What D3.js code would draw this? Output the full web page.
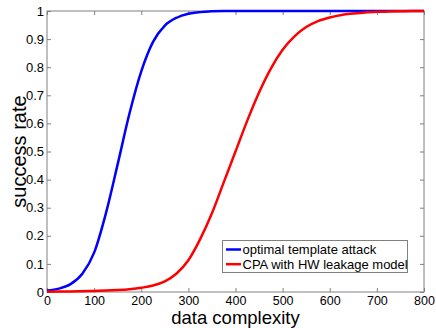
<!DOCTYPE html>
<html><head><meta charset="utf-8">
<script src="https://cdn.jsdelivr.net/npm/d3@7"></script>
<style>body{margin:0;background:#fff}svg{display:block}text{font-family:"Liberation Sans",Arial,sans-serif}</style>
</head><body><svg id="c" width="436" height="328"></svg>
<script>
const xVals = [0,25,50,75,100,125,150,175,200,225,250,275,300,325,350,375,400,425,450,475,500,525,550,575,600,625,650,675,700,725,750,775,800];
const templateRate = [0.005,0.012,0.028,0.065,0.14,0.28,0.455,0.635,0.785,0.89,0.948,0.976,0.99,0.996,0.999,1,1,1,1,1,1,1,1,1,1,1,1,1,1,1,1,1,1];
const cpaRate = [0.001,0.0015,0.002,0.003,0.004,0.005,0.007,0.01,0.015,0.023,0.038,0.066,0.113,0.188,0.28,0.39,0.5,0.61,0.71,0.795,0.862,0.91,0.943,0.964,0.977,0.986,0.991,0.995,0.997,0.998,0.999,1,1];
const seriesNames = ["optimal template attack","CPA with HW leakage model"];
const seriesColors = ["#0000ff","#ff0000"];
const xTicks = [0,100,200,300,400,500,600,700,800];
const yTicks = [0,0.1,0.2,0.3,0.4,0.5,0.6,0.7,0.8,0.9,1];
const yTickLabels = ["0","0.1","0.2","0.3","0.4","0.5","0.6","0.7","0.8","0.9","1"];

const svg = d3.select("#c");
const L=47, R=424, T=11, B=292;
const x = d3.scaleLinear().domain([0,800]).range([L,R]);
const y = d3.scaleLinear().domain([0,1]).range([B,T]);
const axisCol = "#808080";

svg.append("rect").attr("x",L).attr("y",T).attr("width",R-L).attr("height",B-T)
  .attr("fill","none").attr("stroke",axisCol).attr("stroke-width",1);

function styleAxis(g, labels, fs){
  g.select(".domain").remove();
  g.selectAll(".tick line").attr("stroke",axisCol);
  g.selectAll(".tick text").attr("fill","#000").attr("font-size",fs);
  if(!labels) g.selectAll(".tick text").remove();
}
const xb = svg.append("g").attr("transform",`translate(0,${B})`)
  .call(d3.axisBottom(x).tickValues(xTicks).tickSizeInner(-4).tickSizeOuter(0).tickPadding(4).tickFormat(d3.format("d")));
styleAxis(xb,true,12.5);
const xt = svg.append("g").attr("transform",`translate(0,${T})`)
  .call(d3.axisTop(x).tickValues(xTicks).tickSizeInner(-4).tickSizeOuter(0));
styleAxis(xt,false,12.5);
const yl = svg.append("g").attr("transform",`translate(${L},0)`)
  .call(d3.axisLeft(y).tickValues(yTicks).tickSizeInner(-4).tickSizeOuter(0).tickPadding(3).tickFormat((d,i)=>yTickLabels[i]));
styleAxis(yl,true,13);
const yr = svg.append("g").attr("transform",`translate(${R},0)`)
  .call(d3.axisRight(y).tickValues(yTicks).tickSizeInner(-4).tickSizeOuter(0));
styleAxis(yr,false,13);

const line = d3.line().x((d,i)=>x(xVals[i])).y(d=>y(d)).curve(d3.curveMonotoneX);
[templateRate,cpaRate].forEach((s,k)=>{
  svg.append("path").datum(s).attr("d",line).attr("fill","none")
    .attr("stroke",seriesColors[k]).attr("stroke-width",2.5).attr("stroke-linejoin","round");
});

svg.append("text").attr("x",(L+R)/2).attr("y",324).attr("text-anchor","middle")
  .attr("font-size",18.5).attr("fill","#000").text("data complexity");
svg.append("text").attr("transform",`translate(26,${(T+B)/2}) rotate(-90)`).attr("text-anchor","middle")
  .attr("font-size",20).attr("fill","#000").text("success rate");

const lg = svg.append("g");
lg.append("rect").attr("x",222.5).attr("y",240.5).attr("width",185).attr("height",32)
  .attr("fill","#fff").attr("stroke",axisCol).attr("stroke-width",1);
seriesNames.forEach((n,k)=>{
  const yy = 249.5 + k*14.7;
  lg.append("line").attr("x1",226).attr("x2",241).attr("y1",yy).attr("y2",yy)
    .attr("stroke",seriesColors[k]).attr("stroke-width",2.5);
  lg.append("text").attr("x",242.5).attr("y",yy).attr("dy","0.35em").attr("font-size",13)
    .attr("fill","#000").text(n);
});
</script></body></html>
